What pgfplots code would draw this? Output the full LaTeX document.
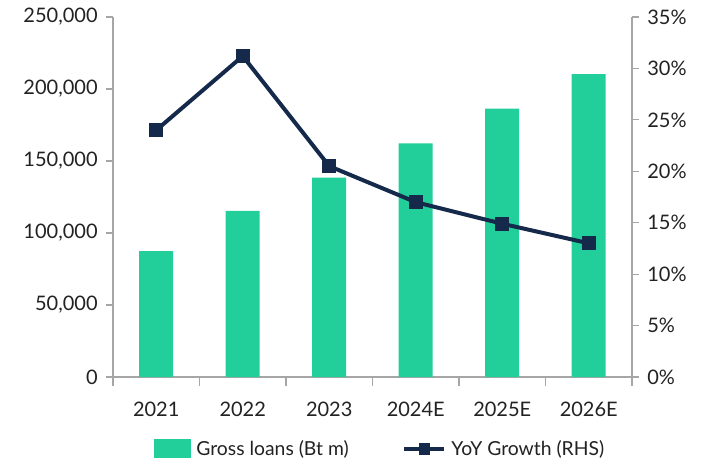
\documentclass[border=0pt]{standalone}
\usepackage{fontspec}
\setmainfont{Lato}
\usepackage{pgfplots}
\pgfplotsset{compat=1.18}
\definecolor{loangreen}{HTML}{22CE99}
\definecolor{navy}{HTML}{15294B}
\definecolor{axisgray}{HTML}{A6A6A6}
\definecolor{txt}{HTML}{222222}

\pgfplotsset{
  common/.style={
    scale only axis, width=389.25pt, height=270pt,
    at={(0,0)}, anchor=south west,
    xmin=-0.5, xmax=5.5,
    axis line style={axisgray, line width=0.9pt},
    tick style={axisgray, line width=0.9pt},
    tick align=outside,
    major tick length=5pt,
    ticklabel style={font=\fontsize{15}{17}\selectfont, text=txt},
    /pgf/number format/assume math mode=true,
  }
}

\begin{document}
\begin{tikzpicture}
  \begin{axis}[
      common,
      axis y line*=left, axis x line*=bottom,
      ymin=0, ymax=250000,
      ytick={0,50000,100000,150000,200000,250000},
      scaled y ticks=false,
      yticklabel style={/pgf/number format/fixed, /pgf/number format/1000 sep={,}, xshift=-3pt},
      xtick={0,1,2,3,4,5},
      xticklabels={2021,2022,2023,2024E,2025E,2026E},
      major x tick style={draw=none},
      minor xtick={-0.5,0.5,1.5,2.5,3.5,4.5,5.5},
      minor tick length=6.5pt,
      minor x tick style={axisgray, line width=0.9pt},
      xticklabel style={yshift=-10pt},
      legend style={at={(0.515,-0.16)}, anchor=north, draw=none,
        font=\fontsize{14.5}{16}\selectfont, text=txt,
        legend columns=2, column sep=2pt,
        /tikz/every even column/.append style={column sep=38pt}},
      legend image code/.code={
        \fill[loangreen] (0pt,-7pt) rectangle (28pt,7pt);},
    ]
    \addplot[ybar, bar width=25.5pt, fill=loangreen, draw=none] coordinates {
      (0,87500) (1,115300) (2,138400) (3,162300) (4,186300) (5,210400)
    };
    \addlegendentry{Gross loans (Bt m)}
    \addlegendimage{legend image code/.code={
        \draw[navy, line width=3pt] (0pt,0pt) -- (30pt,0pt);
        \fill[navy] (11pt,-4pt) rectangle (19pt,4pt);}}
    \addlegendentry{YoY Growth (RHS)}
  \end{axis}
  \begin{axis}[
      common,
      axis y line*=right, axis x line=none,
      ymin=0, ymax=35,
      ytick={0,5,10,15,20,25,30,35},
      yticklabel={\pgfmathprintnumber{\tick}\%},
      yticklabel style={xshift=3pt},
    ]
    \addplot[navy, line width=3pt, mark=square*, mark size=3.9pt,
      mark options={solid, fill=navy}] coordinates {
      (0,24.0) (1,31.2) (2,20.5) (3,17.0) (4,14.9) (5,13.0)
    };
  \end{axis}
  \pgfresetboundingbox
  \path[use as bounding box] (-84.75pt,-66pt) rectangle (443.25pt,282.75pt);
\end{tikzpicture}
\end{document}
